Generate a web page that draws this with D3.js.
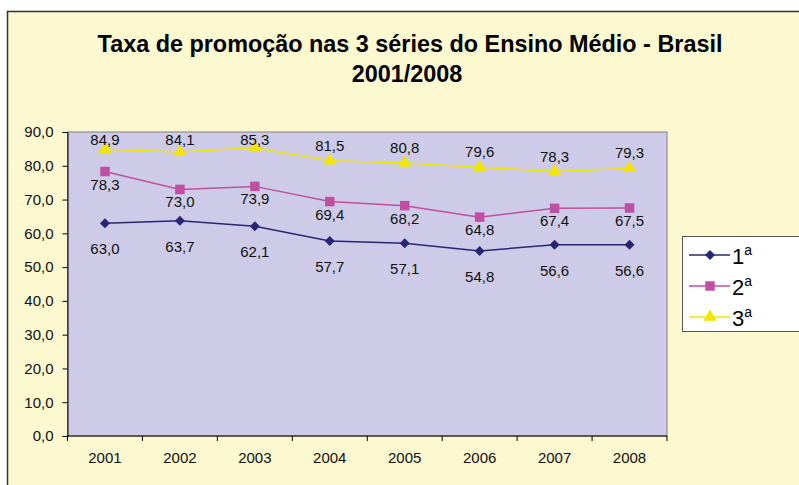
<!DOCTYPE html>
<html>
<head>
<meta charset="utf-8">
<script src="https://cdn.jsdelivr.net/npm/d3@7"></script>
<style>
  body { margin: 0; background: #fff; }
  svg { display: block; font-family: "Liberation Sans", Arial, sans-serif; }
</style>
</head>
<body>
<svg id="chart" width="799" height="485"></svg>
<script>
// data
const years = ["2001", "2002", "2003", "2004", "2005", "2006", "2007", "2008"];
const serie1 = [63.0, 63.7, 62.1, 57.7, 57.1, 54.8, 56.6, 56.6];
const serie2 = [78.3, 73.0, 73.9, 69.4, 68.2, 64.8, 67.4, 67.5];
const serie3 = [84.9, 84.1, 85.3, 81.5, 80.8, 79.6, 78.3, 79.3];
const yTicks = [0, 10, 20, 30, 40, 50, 60, 70, 80, 90];
const seriesNames = ["1", "2", "3"];

// diamond = square turned 45 degrees
const series = [
    {name: seriesNames[0], values: serie1, color: "#262675", marker: d3.symbolSquare, size: 50, rot: 45, labelPos: "below2"},
    {name: seriesNames[1], values: serie2, color: "#BF50A1", marker: d3.symbolSquare, size: 90, rot: 0, labelPos: "below"},
    {name: seriesNames[2], values: serie3, color: "#F2E600", marker: d3.symbolTriangle, size: 75, rot: 0, labelPos: "above"}
];

const svg = d3.select("#chart");
const fmt = v => v.toFixed(1).replace(".", ",");

// outer chart area
svg.append("rect")
    .attr("x", 7.5).attr("y", 11.5)
    .attr("width", 820).attr("height", 500)
    .attr("fill", "#FCF8CF")
    .attr("stroke", "#333").attr("stroke-width", 1.5);

// title
const title = svg.append("text")
    .attr("text-anchor", "middle")
    .attr("font-size", 23.4)
    .attr("font-weight", "bold")
    .attr("fill", "#000");
title.append("tspan").attr("x", 410).attr("y", 52)
    .text("Taxa de promoção nas 3 séries do Ensino Médio - Brasil");
title.append("tspan").attr("x", 407).attr("y", 82)
    .text("2001/2008");

const plot = {left: 67.5, top: 132, right: 667, bottom: 436};

const x = d3.scaleBand()
    .domain(years)
    .range([plot.left, plot.right]);

const y = d3.scaleLinear()
    .domain([0, 90])
    .range([plot.bottom, plot.top]);

// plot background
svg.append("rect")
    .attr("x", plot.left).attr("y", plot.top)
    .attr("width", plot.right - plot.left)
    .attr("height", plot.bottom - plot.top)
    .attr("fill", "#CDCBE7")
    .attr("stroke", "#808080").attr("stroke-width", 1);

// y axis
const yAxis = svg.append("g")
    .attr("transform", `translate(${plot.left},0)`)
    .call(d3.axisLeft(y).tickValues(yTicks).tickFormat(fmt).tickSize(5).tickPadding(9));
yAxis.select(".domain").attr("stroke", "#000");
yAxis.selectAll(".tick line").attr("stroke", "#000");
yAxis.selectAll("text").attr("font-size", 15).attr("fill", "#111")
    .attr("font-family", "Liberation Sans, Arial, sans-serif");

// x axis, ticks between categories
const xAxis = svg.append("g")
    .attr("transform", `translate(0,${plot.bottom})`);
xAxis.append("line")
    .attr("x1", plot.left).attr("x2", plot.right)
    .attr("stroke", "#000");
xAxis.selectAll("line.tk")
    .data(years.concat(["end"]))
    .join("line")
    .attr("class", "tk")
    .attr("x1", (d, i) => plot.left + i * x.step())
    .attr("x2", (d, i) => plot.left + i * x.step())
    .attr("y1", 0).attr("y2", 5)
    .attr("stroke", "#000");
xAxis.selectAll("text")
    .data(years)
    .join("text")
    .attr("x", d => x(d) + x.bandwidth() / 2)
    .attr("y", 27)
    .attr("text-anchor", "middle")
    .attr("font-size", 15)
    .attr("fill", "#111")
    .text(d => d);

const line = d3.line()
    .x((d, i) => x(years[i]) + x.bandwidth() / 2)
    .y(d => y(d));

series.forEach(s => {
    const g = svg.append("g");
    g.append("path")
        .datum(s.values)
        .attr("d", line)
        .attr("fill", "none")
        .attr("stroke", s.color)
        .attr("stroke-width", 1.5);
    g.selectAll("path.mk")
        .data(s.values)
        .join("path")
        .attr("class", "mk")
        .attr("transform", (d, i) => `translate(${x(years[i]) + x.bandwidth() / 2},${y(d)}) rotate(${s.rot})`)
        .attr("d", d3.symbol().type(s.marker).size(s.size))
        .attr("fill", s.color);
    g.selectAll("text")
        .data(s.values)
        .join("text")
        .attr("x", (d, i) => x(years[i]) + x.bandwidth() / 2)
        .attr("y", d => {
            if (s.labelPos === "above") return Math.max(y(d) - 10, 145);
            if (s.labelPos === "below") return y(d) + 18;
            return y(d) + 31;
        })
        .attr("text-anchor", "middle")
        .attr("font-size", 15)
        .attr("fill", "#111")
        .text(fmt);
});

// legend
const legend = svg.append("g");
legend.append("rect")
    .attr("x", 682.5).attr("y", 236.5)
    .attr("width", 140).attr("height", 95)
    .attr("fill", "#fff")
    .attr("stroke", "#555").attr("stroke-width", 1);

series.forEach((s, i) => {
    const ly = 255 + i * 31;
    legend.append("line")
        .attr("x1", 689).attr("x2", 730)
        .attr("y1", ly).attr("y2", ly)
        .attr("stroke", s.color).attr("stroke-width", 1.5);
    legend.append("path")
        .attr("transform", `translate(710,${ly}) rotate(${s.rot})`)
        .attr("d", d3.symbol().type(s.marker).size(s.size))
        .attr("fill", s.color);
    const t = legend.append("text")
        .attr("x", 732)
        .attr("y", ly + 9)
        .attr("font-size", 22)
        .attr("fill", "#000");
    t.append("tspan").text(s.name);
    t.append("tspan")
        .attr("dy", -9)
        .attr("font-size", 14)
        .text("a");
});
</script>
</body>
</html>
